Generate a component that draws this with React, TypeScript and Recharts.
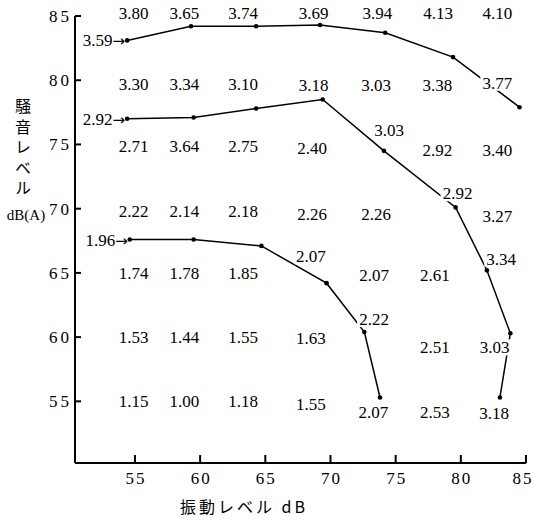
import React from 'react';
import { ComposedChart, Line, ReferenceDot, XAxis, YAxis } from 'recharts';

const xTicks = [55, 60, 65, 70, 75, 80, 85];
const yTicks = [55, 60, 65, 70, 75, 80, 85];

// contour lines (vibration dB, noise dB(A))
const line359 = [
  { x: 54.4, y: 83.1 }, { x: 59.3, y: 84.2 }, { x: 64.3, y: 84.2 }, { x: 69.2, y: 84.3 },
  { x: 74.2, y: 83.7 }, { x: 79.4, y: 81.8 }, { x: 84.5, y: 77.9 },
];
const line292 = [
  { x: 54.4, y: 77.0 }, { x: 59.5, y: 77.1 }, { x: 64.3, y: 77.8 }, { x: 69.4, y: 78.5 },
  { x: 74.1, y: 74.5 }, { x: 79.6, y: 70.1 }, { x: 82.0, y: 65.2 }, { x: 83.8, y: 60.3 },
  { x: 83.0, y: 55.3 },
];
const line196 = [
  { x: 54.6, y: 67.6 }, { x: 59.5, y: 67.6 }, { x: 64.7, y: 67.1 }, { x: 69.7, y: 64.2 },
  { x: 72.6, y: 60.4 }, { x: 73.8, y: 55.3 },
];
const lineNames = ['3.59', '2.92', '1.96'];

// measured values written on the chart
const valueLabels = [
  { x: 54.9, y: 85.25, v: '3.80' }, { x: 58.8, y: 85.25, v: '3.65' }, { x: 63.3, y: 85.25, v: '3.74' },
  { x: 68.7, y: 85.25, v: '3.69' }, { x: 73.6, y: 85.25, v: '3.94' }, { x: 78.25, y: 85.25, v: '4.13' },
  { x: 82.8, y: 85.25, v: '4.10' },
  { x: 54.9, y: 79.7, v: '3.30' }, { x: 58.8, y: 79.7, v: '3.34' }, { x: 63.3, y: 79.7, v: '3.10' },
  { x: 68.7, y: 79.6, v: '3.18' }, { x: 73.5, y: 79.6, v: '3.03' }, { x: 78.2, y: 79.6, v: '3.38' },
  { x: 82.8, y: 79.8, v: '3.77' },
  { x: 54.9, y: 74.85, v: '2.71' }, { x: 58.8, y: 74.85, v: '3.64' }, { x: 63.3, y: 74.85, v: '2.75' },
  { x: 68.6, y: 74.7, v: '2.40' }, { x: 74.5, y: 76.1, v: '3.03' }, { x: 78.2, y: 74.6, v: '2.92' },
  { x: 82.8, y: 74.6, v: '3.40' },
  { x: 54.9, y: 69.8, v: '2.22' }, { x: 58.8, y: 69.8, v: '2.14' }, { x: 63.3, y: 69.8, v: '2.18' },
  { x: 68.6, y: 69.6, v: '2.26' }, { x: 73.5, y: 69.6, v: '2.26' }, { x: 79.75, y: 71.2, v: '2.92' },
  { x: 82.8, y: 69.4, v: '3.27' },
  { x: 54.9, y: 65.0, v: '1.74' }, { x: 58.8, y: 65.0, v: '1.78' }, { x: 63.3, y: 65.0, v: '1.85' },
  { x: 68.5, y: 66.3, v: '2.07' }, { x: 73.35, y: 64.8, v: '2.07' }, { x: 78.0, y: 64.8, v: '2.61' },
  { x: 83.1, y: 66.1, v: '3.34' },
  { x: 54.9, y: 60.0, v: '1.53' }, { x: 58.8, y: 60.0, v: '1.44' }, { x: 63.3, y: 60.0, v: '1.55' },
  { x: 68.5, y: 59.9, v: '1.63' }, { x: 73.35, y: 61.4, v: '2.22' }, { x: 78.0, y: 59.2, v: '2.51' },
  { x: 82.6, y: 59.2, v: '3.03' },
  { x: 54.9, y: 55.0, v: '1.15' }, { x: 58.8, y: 55.0, v: '1.00' }, { x: 63.3, y: 55.0, v: '1.18' },
  { x: 68.5, y: 54.8, v: '1.55' }, { x: 73.3, y: 54.2, v: '2.07' }, { x: 78.0, y: 54.2, v: '2.53' },
  { x: 82.55, y: 54.1, v: '3.18' },
];

const SERIF = '"Liberation Serif", "Times New Roman", serif';
const JP = '"Noto Sans CJK JP", sans-serif';

const YTick = ({ x, y, payload }: any) => (
  <g>
    <line x1={x} x2={x + 6} y1={y} y2={y} stroke="#000" strokeWidth={2} />
    <text x={x - 3} y={y + 6} textAnchor="end" fontFamily={SERIF} fontSize={17} letterSpacing={3} fill="#000">
      {payload.value}
    </text>
  </g>
);

const XTick = ({ x, y, payload }: any) => (
  <g>
    <line x1={x} x2={x} y1={y} y2={y - 8} stroke="#000" strokeWidth={2} />
    <text x={Math.min(x + 1, 523)} y={y + 21} textAnchor="middle" fontFamily={SERIF} fontSize={17} letterSpacing={2} fill="#000">
      {payload.value}
    </text>
  </g>
);

const YTitle = () => (
  <g fill="#000">
    <text x={23} y={98} fontFamily={JP} fontSize={16} letterSpacing={4.5} style={{ writingMode: 'vertical-rl' }}>
      騒音レベル
    </text>
    <text x={26} y={220} textAnchor="middle" fontFamily={SERIF} fontSize={15}>dB(A)</text>
  </g>
);

const XTitle = () => (
  <text x={180} y={513} fontFamily={JP} fontSize={16} letterSpacing={3} fill="#000">
    振動レベル dB
  </text>
);

const labelShape = (v: string) => ({ cx, cy }: any) => (
  <g>
    <rect x={cx - 17} y={cy - 8} width={34} height={16} fill="#fff" />
    <text x={cx} y={cy + 6} textAnchor="middle" fontFamily={SERIF} fontSize={17} fill="#000">
      {v}
    </text>
  </g>
);

const makeDot = (name: string) => (p: any) => (
  <g key={`d-${name}-${p.index}`}>
    <circle cx={p.cx} cy={p.cy} r={2.3} fill="#000" />
    {p.index === 0 && (
      <text x={p.cx - 2} y={p.cy + 6} textAnchor="end" fontFamily={SERIF} fontSize={17} fill="#000">
        {name}
        <tspan fontFamily='"DejaVu Sans", sans-serif' fontSize={15}>→</tspan>
      </text>
    )}
  </g>
);

const lines = [line359, line292, line196];

export default function App() {
  return (
    <div style={{ position: 'absolute', left: 0, top: 0, background: '#fff' }}>
      <ComposedChart width={536} height={521} margin={{ top: 16, right: 10, left: 0, bottom: 0 }}>
        <XAxis
          type="number"
          dataKey="x"
          domain={[50.4, 85]}
          ticks={xTicks}
          allowDataOverflow
          height={58}
          axisLine={{ stroke: '#000', strokeWidth: 2 }}
          tickLine={false}
          tickSize={0}
          tickMargin={0}
          tick={<XTick />}
          label={<XTitle />}
        />
        <YAxis
          type="number"
          dataKey="y"
          domain={[50.2, 85]}
          ticks={yTicks}
          allowDataOverflow
          width={75}
          axisLine={{ stroke: '#000', strokeWidth: 2 }}
          tickLine={false}
          tickSize={0}
          tickMargin={0}
          tick={<YTick />}
          label={<YTitle />}
        />
        {lines.map((d, i) => (
          <Line
            key={lineNames[i]}
            data={d}
            dataKey="y"
            type="linear"
            stroke="#000"
            strokeWidth={1.5}
            dot={makeDot(lineNames[i])}
            activeDot={false}
            isAnimationActive={false}
          />
        ))}
        {valueLabels.map((l, i) => (
          <ReferenceDot
            key={`lbl-${i}`}
            x={l.x}
            y={l.y}
            r={1}
            ifOverflow="visible"
            shape={labelShape(l.v)}
          />
        ))}
      </ComposedChart>
    </div>
  );
}
